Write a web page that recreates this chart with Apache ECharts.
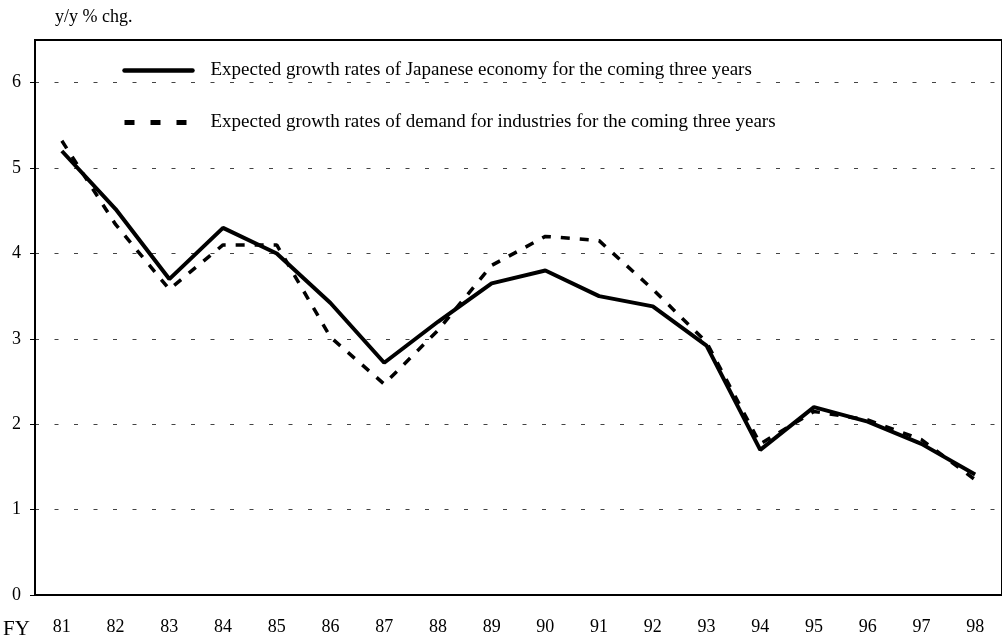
<!DOCTYPE html>
<html>
<head>
<meta charset="utf-8">
<script src="https://cdn.jsdelivr.net/npm/echarts@6/dist/echarts.min.js"></script>
<style>
  html, body { margin: 0; padding: 0; background: #fff; }
  #main { width: 1002px; height: 642px; }
</style>
</head>
<body>
<div id="main"></div>
<script>
let years = ['81', '82', '83', '84', '85', '86', '87', '88', '89', '90', '91', '92', '93', '94', '95', '96', '97', '98']
let economyGrowth = [5.2, 4.52, 3.7, 4.3, 4.0, 3.42, 2.72, 3.2, 3.65, 3.8, 3.5, 3.38, 2.92, 1.7, 2.2, 2.03, 1.77, 1.41]
let demandGrowth = [5.32, 4.34, 3.58, 4.1, 4.1, 3.02, 2.47, 3.1, 3.86, 4.2, 4.15, 3.58, 2.96, 1.77, 2.15, 2.05, 1.82, 1.35]
let yTicks = [0, 1, 2, 3, 4, 5, 6]

let seriesNames = [
    'Expected growth rates of Japanese economy for the coming three years',
    'Expected growth rates of demand for industries for the coming three years'
]

const serif = '"Liberation Serif", "Times New Roman", serif'

var myChart = echarts.init(document.getElementById('main'))

let option = {
    animation: false,
    backgroundColor: '#fff',
    textStyle: { fontFamily: serif },
    grid: {
        left: 35,
        top: 40,
        width: 978,
        height: 555,
        show: true,
        borderColor: '#000',
        borderWidth: 2
    },
    graphic: [
        { type: 'text', left: 55, top: 8, style: { text: 'y/y % chg.', font: '18px ' + serif, fill: '#000' } },
        { type: 'text', left: 3, top: 619, style: { text: 'FY', font: '21px ' + serif, fill: '#000' } }
    ],
    legend: {
        orient: 'vertical',
        left: 122,
        top: 61,
        padding: 0,
        itemWidth: 68,
        itemHeight: 16,
        itemGap: 33,
        textStyle: { fontFamily: serif, fontSize: 19, color: '#000', padding: [3, 0, 0, 13] },
        data: [
            {
                name: seriesNames[0],
                lineStyle: { width: 4.5, type: 'solid', color: '#000', cap: 'round' },
                itemStyle: { color: 'rgba(0,0,0,0)', borderWidth: 0 }
            },
            {
                name: seriesNames[1],
                lineStyle: { width: 5, type: [10, 16], color: '#000' },
                itemStyle: { color: 'rgba(0,0,0,0)', borderWidth: 0 }
            }
        ]
    },
    xAxis: {
        type: 'category',
        data: years,
        boundaryGap: true,
        axisLine: { lineStyle: { color: '#000', width: 2 } },
        axisTick: { inside: true, length: 5, lineStyle: { color: '#000', width: 1 } },
        axisLabel: { color: '#000', fontSize: 18, fontFamily: serif, margin: 23 },
        splitLine: { show: false }
    },
    yAxis: {
        type: 'value',
        min: 0,
        max: 6.5,
        interval: 1,
        axisLine: { show: true, lineStyle: { color: '#000', width: 2 } },
        axisTick: { show: true, length: 5, customValues: yTicks, lineStyle: { color: '#000', width: 1 } },
        axisLabel: { color: '#000', fontSize: 18, fontFamily: serif, margin: 14, customValues: yTicks },
        splitLine: { lineStyle: { color: '#444', width: 1, type: [4, 15.5] } }
    },
    series: [
        {
            name: seriesNames[0],
            type: 'line',
            data: economyGrowth,
            symbol: 'none',
            lineStyle: { color: '#000', width: 4, type: 'solid' },
            itemStyle: { color: '#000' }
        },
        {
            name: seriesNames[1],
            type: 'line',
            data: demandGrowth,
            symbol: 'none',
            lineStyle: { color: '#000', width: 3.5, type: [9, 10] },
            itemStyle: { color: '#000' }
        }
    ]
}

myChart.setOption(option)
</script>
</body>
</html>
